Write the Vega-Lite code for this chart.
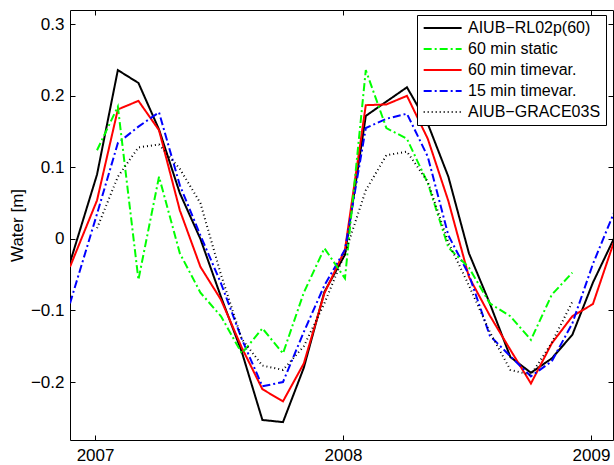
{
  "$schema": "https://vega.github.io/schema/vega-lite/v6.json",
  "width": 543,
  "height": 430,
  "autosize": {"type": "none"},
  "padding": {"left": 70, "top": 10, "right": 1, "bottom": 25},
  "background": "white",
  "config": {
    "font": "Liberation Sans",
    "view": {"stroke": "black", "strokeWidth": 1}
  },
  "data": {
    "values": [
      {"t": 2006.899, "a": -0.033, "r": -0.039, "b": -0.09},
      {"t": 2007.008, "a": 0.090, "g": 0.124, "r": 0.054, "b": 0.035, "d": 0.015},
      {"t": 2007.092, "a": 0.236, "g": 0.185, "r": 0.181, "b": 0.134, "d": 0.087},
      {"t": 2007.175, "a": 0.218, "g": -0.057, "r": 0.193, "b": 0.157, "d": 0.128},
      {"t": 2007.258, "a": 0.153, "g": 0.087, "r": 0.152, "b": 0.177, "d": 0.132},
      {"t": 2007.342, "a": 0.064, "g": -0.020, "r": 0.040, "b": 0.075, "d": 0.098},
      {"t": 2007.425, "a": 0.000, "g": -0.075, "r": -0.039, "b": 0.005, "d": 0.050},
      {"t": 2007.508, "a": -0.081, "g": -0.108, "r": -0.085, "b": -0.062, "d": -0.050},
      {"t": 2007.592, "a": -0.158, "g": -0.160, "r": -0.152, "b": -0.140, "d": -0.140},
      {"t": 2007.675, "a": -0.253, "g": -0.125, "r": -0.210, "b": -0.206, "d": -0.177},
      {"t": 2007.758, "a": -0.256, "g": -0.160, "r": -0.227, "b": -0.200, "d": -0.183},
      {"t": 2007.842, "a": -0.180, "g": -0.075, "r": -0.174, "b": -0.130, "d": -0.150},
      {"t": 2007.925, "a": -0.074, "g": -0.013, "r": -0.076, "b": -0.065, "d": -0.090},
      {"t": 2008.008, "a": -0.022, "g": -0.055, "r": -0.015, "b": -0.015, "d": -0.020},
      {"t": 2008.092, "a": 0.172, "g": 0.236, "r": 0.187, "b": 0.155, "d": 0.068},
      {"t": 2008.175, "a": 0.192, "g": 0.155, "r": 0.188, "b": 0.168, "d": 0.117},
      {"t": 2008.258, "a": 0.212, "g": 0.140, "r": 0.200, "b": 0.175, "d": 0.122},
      {"t": 2008.342, "a": 0.161, "g": 0.078, "r": 0.140, "b": 0.115, "d": 0.080},
      {"t": 2008.425, "a": 0.087, "g": -0.012, "r": 0.053, "b": 0.005, "d": -0.005},
      {"t": 2008.508, "a": -0.020, "g": -0.040, "r": -0.053, "b": -0.050, "d": -0.065},
      {"t": 2008.592, "a": -0.090, "g": -0.090, "r": -0.107, "b": -0.135, "d": -0.130},
      {"t": 2008.675, "a": -0.165, "g": -0.108, "r": -0.155, "b": -0.164, "d": -0.183},
      {"t": 2008.758, "a": -0.187, "g": -0.141, "r": -0.202, "b": -0.192, "d": -0.190},
      {"t": 2008.842, "a": -0.167, "g": -0.078, "r": -0.146, "b": -0.171, "d": -0.145},
      {"t": 2008.925, "a": -0.134, "g": -0.047, "r": -0.108, "b": -0.118, "d": -0.088},
      {"t": 2009.008, "a": -0.061, "r": -0.091, "b": -0.035},
      {"t": 2009.092, "a": 0.000, "r": -0.005, "b": 0.036}
    ]
  },
  "transform": [
    {"fold": ["a", "g", "r", "b", "d"], "as": ["s", "v"]},
    {"filter": "isValid(datum.v)"}
  ],
  "layer": [
    {
      "mark": {"type": "line", "clip": true},
      "encoding": {
        "x": {"field": "t", "type": "quantitative",
          "scale": {"domain": [2006.899, 2009.089], "nice": false, "zero": false},
          "axis": {"orient": "bottom", "values": [2007, 2008, 2009], "format": "d", "title": null, "grid": false, "domain": false,
            "labelFontSize": 17, "labelColor": "black", "tickColor": "black", "tickSize": -5, "labelPadding": 12}},
        "y": {"field": "v", "type": "quantitative",
          "scale": {"domain": [-0.281, 0.32], "nice": false, "zero": false},
          "axis": {"orient": "left", "values": [-0.2, -0.1, 0, 0.1, 0.2, 0.3], "format": ".1~f", "title": "Water [m]", "grid": false, "domain": false,
            "labelFontSize": 17, "labelColor": "black", "tickColor": "black", "tickSize": -5, "labelPadding": 11,
            "titleFontSize": 17, "titleFontWeight": "normal", "titleColor": "black", "titlePadding": 4}},
        "color": {"field": "s", "type": "nominal",
          "scale": {"domain": ["a", "g", "r", "b", "d"],
            "range": ["#000000", "#00ff00", "#ff0000", "#0000ff", "#000000"]},
          "legend": {"orient": "none", "legendX": 347, "legendY": 5, "title": null, "strokeColor": "black", "fillColor": "white",
            "padding": 5, "symbolType": "M-1,0H5", "symbolSize": 160, "symbolStrokeWidth": 2, "labelOffset": 30,
            "labelFontSize": 16, "labelColor": "black", "rowPadding": 5,
            "labelExpr": "{'a': 'AIUB−RL02p(60)', 'g': '60 min static', 'r': '60 min timevar.', 'b': '15 min timevar.', 'd': 'AIUB−GRACE03S'}[datum.label]"}},
        "strokeDash": {"field": "s", "type": "nominal",
          "scale": {"domain": ["a", "g", "r", "b", "d"],
            "range": [[1, 0], [8, 3, 2, 3], [1, 0], [8, 3, 2, 3], [1, 3]]},
          "legend": {"orient": "none", "legendX": 347, "legendY": 5, "title": null, "strokeColor": "black", "fillColor": "white",
            "padding": 5, "symbolType": "M-1,0H5", "symbolSize": 160, "symbolStrokeWidth": 2, "labelOffset": 30,
            "labelFontSize": 16, "labelColor": "black", "rowPadding": 5,
            "labelExpr": "{'a': 'AIUB−RL02p(60)', 'g': '60 min static', 'r': '60 min timevar.', 'b': '15 min timevar.', 'd': 'AIUB−GRACE03S'}[datum.label]"}},
        "strokeWidth": {"field": "s", "type": "nominal",
          "scale": {"domain": ["a", "g", "r", "b", "d"],
            "range": [2, 2, 2, 2, 1]},
          "legend": null}
      }
    },
    {
      "mark": {"type": "line", "strokeOpacity": 0},
      "encoding": {
        "x": {"field": "t", "type": "quantitative",
          "axis": {"orient": "top", "values": [2007, 2008, 2009], "labels": false, "title": null, "grid": false, "domain": false,
            "tickColor": "black", "tickSize": -5}},
        "y": {"field": "v", "type": "quantitative",
          "axis": {"orient": "right", "values": [-0.2, -0.1, 0, 0.1, 0.2, 0.3], "labels": false, "title": null, "grid": false, "domain": false,
            "tickColor": "black", "tickSize": -5}},
        "detail": {"field": "s"}
      }
    }
  ],
  "resolve": {"axis": {"x": "independent", "y": "independent"}}
}
